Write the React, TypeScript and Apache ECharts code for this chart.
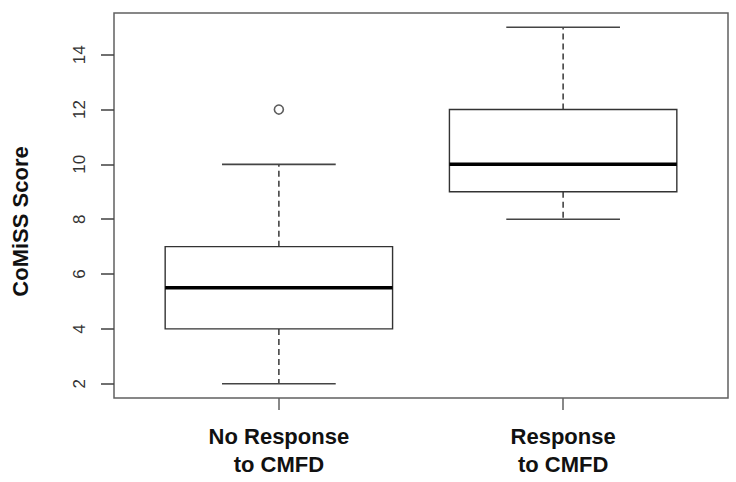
import React, { useEffect, useRef } from "react";
import * as echarts from "echarts";

const categories = ["No Response\nto CMFD", "Response\nto CMFD"];
const lowerWhisker = [2, 8];
const q1 = [4, 9];
const median = [5.5, 10];
const q3 = [7, 12];
const upperWhisker = [10, 15];
const outlierGroup = [1];
const outlierValue = [12];
const yTicks = [2, 4, 6, 8, 10, 12, 14];
const xTicks = [1, 2];

export default function App() {
  const ref = useRef<HTMLDivElement>(null);
  useEffect(() => {
    if (!ref.current) return;
    const chart = echarts.init(ref.current, null, { renderer: "svg" });
    const boxData = categories.map((_, i) => [
      i + 1,
      lowerWhisker[i],
      q1[i],
      median[i],
      q3[i],
      upperWhisker[i],
    ]);
    const outData = outlierGroup.map((g, i) => [g, outlierValue[i]]);
    const font = "'Liberation Sans', Arial, Helvetica, sans-serif";
    chart.setOption({
      animation: false,
      backgroundColor: "#ffffff",
      grid: {
        left: 114,
        right: 8,
        top: 13,
        bottom: 84,
        show: true,
        borderColor: "#606060",
        borderWidth: 1.5,
        backgroundColor: "transparent",
      },
      xAxis: {
        type: "value",
        min: 0.42,
        max: 2.58,
        axisLine: { show: false },
        splitLine: { show: false },
        axisTick: {
          show: true,
          customValues: xTicks,
          length: 12,
          lineStyle: { color: "#606060", width: 1.5 },
        },
        axisLabel: {
          customValues: xTicks,
          formatter: (v: number) => categories[Math.round(v) - 1] ?? "",
          fontSize: 22,
          fontWeight: "bold",
          fontFamily: font,
          color: "#111",
          lineHeight: 28,
          margin: 24,
        },
      },
      yAxis: {
        type: "value",
        min: 1.48,
        max: 15.52,
        axisLine: { show: false },
        splitLine: { show: false },
        axisTick: {
          show: true,
          customValues: yTicks,
          length: 13,
          lineStyle: { color: "#404040", width: 1.5 },
        },
        axisLabel: {
          customValues: yTicks,
          rotate: 90,
          fontSize: 17,
          fontFamily: font,
          color: "#333",
          margin: 26,
        },
        name: "CoMiSS Score",
        nameLocation: "middle",
        nameRotate: 90,
        nameGap: 83,
        nameTextStyle: {
          fontSize: 22,
          fontWeight: "bold",
          fontFamily: font,
          color: "#111",
          padding: [0, 32, 0, 0],
        },
      },
      series: [
        {
          type: "custom",
          data: boxData,
          encode: { x: 0, y: [1, 2, 3, 4, 5] },
          renderItem: (params: any, api: any) => {
            const x = api.value(0);
            const pLo = api.coord([x, api.value(1)]);
            const pQ1 = api.coord([x, api.value(2)]);
            const pMed = api.coord([x, api.value(3)]);
            const pQ3 = api.coord([x, api.value(4)]);
            const pHi = api.coord([x, api.value(5)]);
            const bw = api.size([0.8, 0])[0];
            const cw = bw / 2;
            const cx = pMed[0];
            const whisk = {
              stroke: "#444",
              lineWidth: 1.6,
              lineDash: [6, 4],
            };
            const cap = { stroke: "#444", lineWidth: 1.6 };
            return {
              type: "group",
              children: [
                {
                  type: "line",
                  shape: { x1: cx, y1: pQ3[1], x2: cx, y2: pHi[1] },
                  style: whisk,
                },
                {
                  type: "line",
                  shape: { x1: cx, y1: pQ1[1], x2: cx, y2: pLo[1] },
                  style: whisk,
                },
                {
                  type: "line",
                  shape: { x1: cx - cw / 2, y1: pHi[1], x2: cx + cw / 2, y2: pHi[1] },
                  style: cap,
                },
                {
                  type: "line",
                  shape: { x1: cx - cw / 2, y1: pLo[1], x2: cx + cw / 2, y2: pLo[1] },
                  style: cap,
                },
                {
                  type: "rect",
                  shape: {
                    x: cx - bw / 2,
                    y: pQ3[1],
                    width: bw,
                    height: pQ1[1] - pQ3[1],
                  },
                  style: { fill: "#fff", stroke: "#333", lineWidth: 1.4 },
                },
                {
                  type: "line",
                  shape: { x1: cx - bw / 2, y1: pMed[1], x2: cx + bw / 2, y2: pMed[1] },
                  style: { stroke: "#000", lineWidth: 3.5 },
                },
              ],
            };
          },
        },
        {
          type: "scatter",
          data: outData,
          symbol: "circle",
          symbolSize: 9,
          itemStyle: { color: "#fff", borderColor: "#333", borderWidth: 1.6 },
        },
      ],
    });
    return () => chart.dispose();
  }, []);
  return (
    <div
      ref={ref}
      style={{ position: "fixed", left: 0, top: 0, width: 736, height: 482 }}
    />
  );
}
